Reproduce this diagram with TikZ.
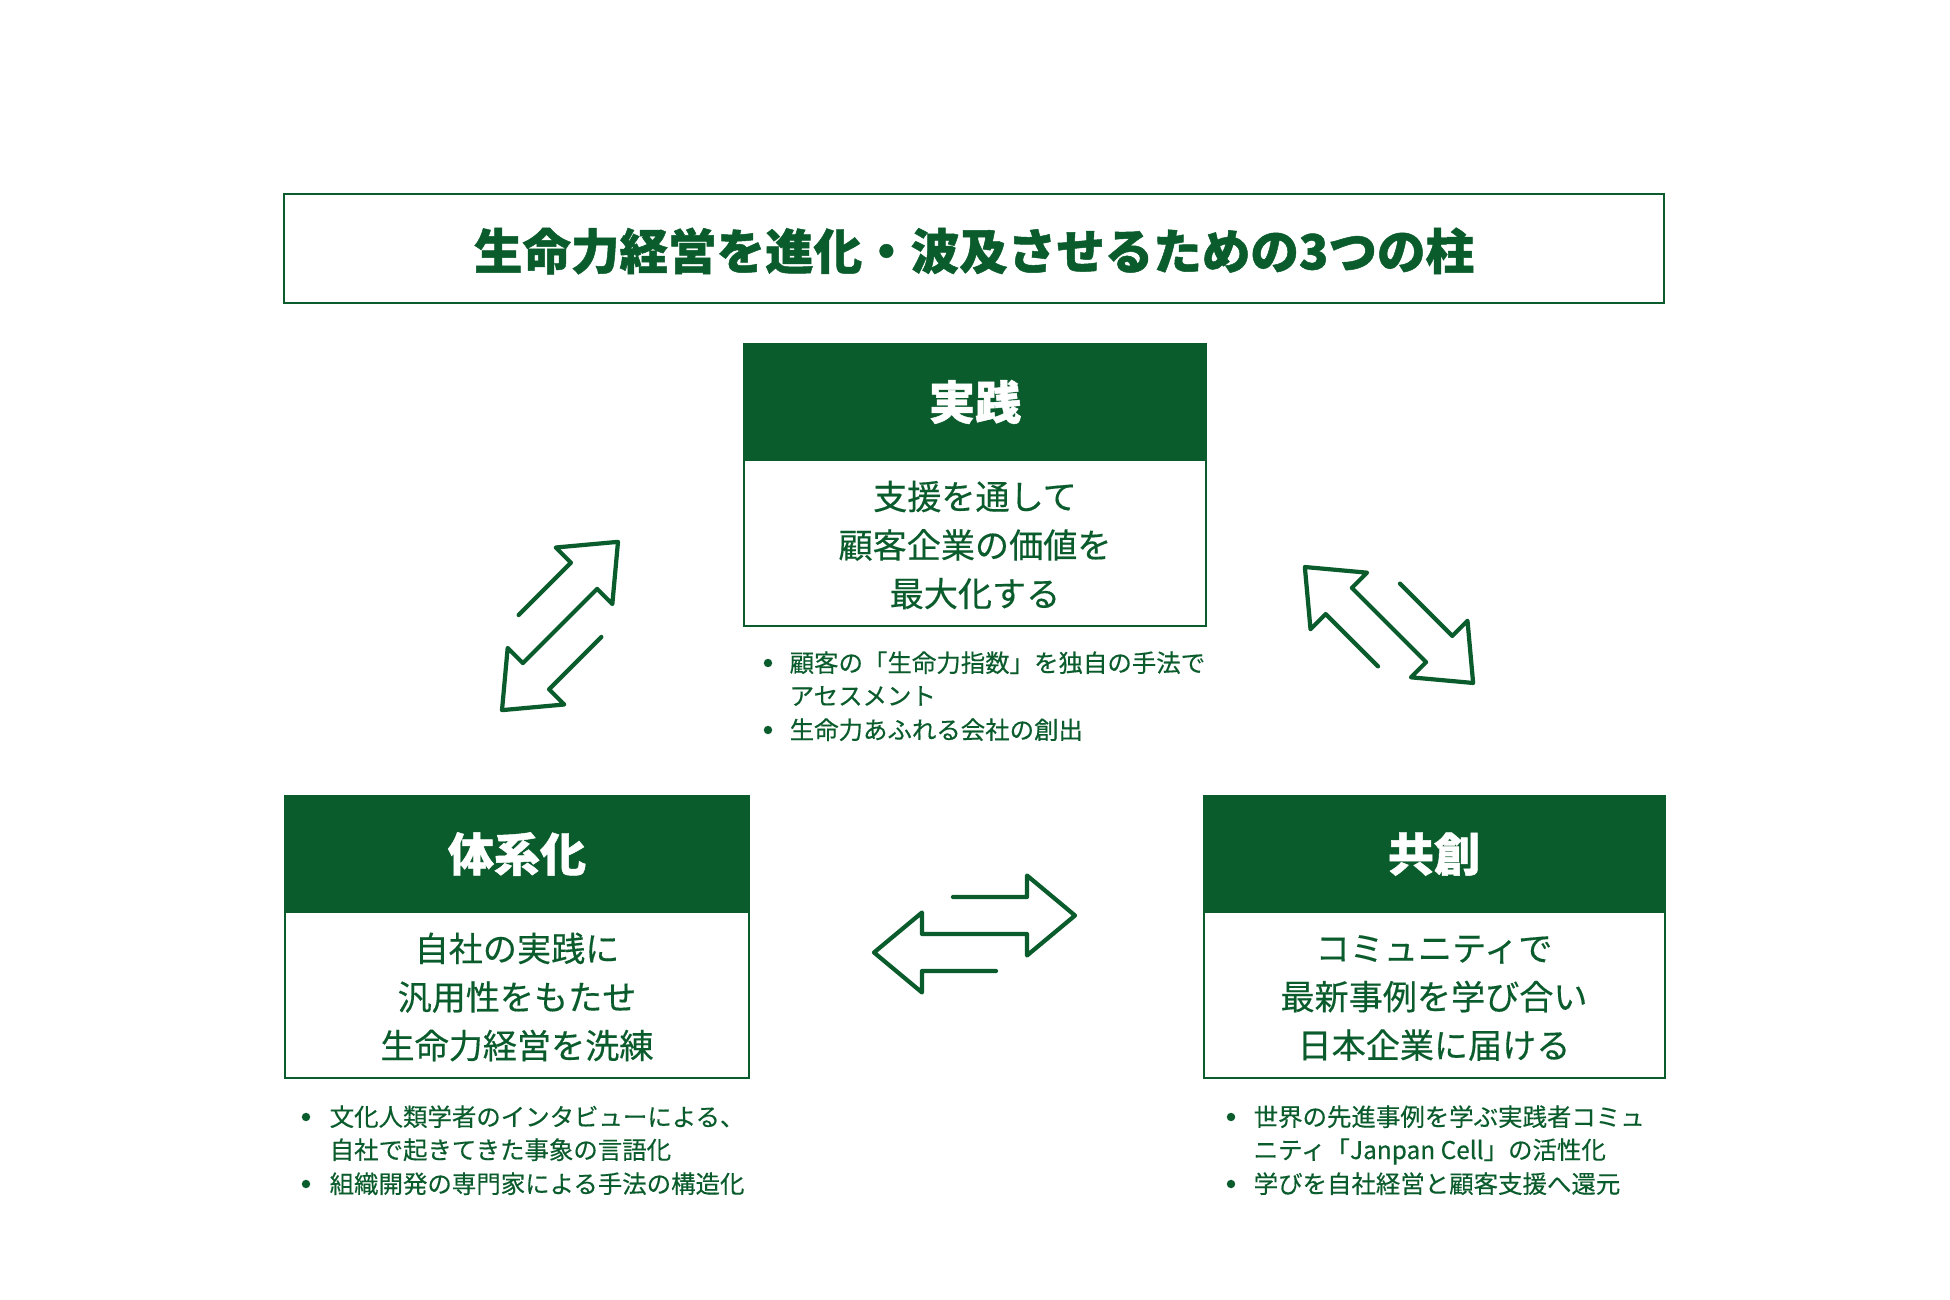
\documentclass[tikz,border=0pt]{standalone}
\usepackage{fontspec}
\setmainfont{Noto Sans CJK JP}

\begin{document}
\begin{tikzpicture}[x=0.01cm, y=-0.01cm,
    boxline/.style={draw=forest, line width=0.6pt},
    headfill/.style={fill=forest, draw=forest, line width=0.6pt},
    titletext/.style={text=forest, font=\fontsize{13.8}{16}\selectfont\bfseries\addfontfeature{FakeBold=1}},
    headtext/.style={text=white, font=\fontsize{13.1}{15}\selectfont\bfseries\addfontfeature{FakeBold=1}},
    bodytext/.style={text=forest, align=center, font=\fontsize{9.7}{13.8}\selectfont\addfontfeature{FakeBold=0.4}},
    notetext/.style={text=forest, anchor=base west, inner sep=0pt, font=\fontsize{6.95}{8}\selectfont\addfontfeature{FakeBold=0.3}},
    arrowline/.style={draw=forest, line width=1.2pt, line cap=round, line join=round},
    swaparrows/.pic={
      \draw[arrowline] (21.5,37) -- (-52.5,37) -- (-52.5,58.5) -- (-100.5,18.5)
        -- (-52.5,-21.5) -- (-52.5,0) -- (52.5,0) -- (52.5,21.5) -- (100.5,-18.5)
        -- (52.5,-58.5) -- (52.5,-37) -- (-21.5,-37);
    }]

  % Colors
  \definecolor{forest}{RGB}{10,92,44}

  % Canvas
  \fill[white] (0,0) rectangle (1950,1300);
  \useasboundingbox (0,0) rectangle (1950,1300);

  % Title frame
  \draw[boxline] (284,194) rectangle (1664,303);
  \node[titletext] (title) at (974,251) {生命力経営を進化・波及させるための3つの柱};

  % Pillar: practice (top)
  \filldraw[headfill] (744,344) rectangle (1206,460);
  \node[headtext] (jissen) at (975,402) {実践};
  \draw[boxline] (744,460) rectangle (1206,626);
  \node[bodytext] (jissenbody) at (975,545) {支援を通して\\顧客企業の価値を\\最大化する};

  \fill[forest] (768,663) circle (1.2pt);
  \node[notetext] (jissennote1) at (789,672) {顧客の「生命力指数」を独自の手法で};
  \node[notetext] (jissennote2) at (789,705) {アセスメント};
  \fill[forest] (768,730) circle (1.2pt);
  \node[notetext] (jissennote3) at (789,739) {生命力あふれる会社の創出};

  % Pillar: systematization (left)
  \filldraw[headfill] (285,796) rectangle (749,912);
  \node[headtext] (taikei) at (517,854) {体系化};
  \draw[boxline] (285,912) rectangle (749,1078);
  \node[bodytext] (taikeibody) at (517,997) {自社の実践に\\汎用性をもたせ\\生命力経営を洗練};

  \fill[forest] (306,1117) circle (1.2pt);
  \node[notetext] (taikeinote1) at (329,1126) {文化人類学者のインタビューによる、};
  \node[notetext] (taikeinote2) at (329,1159) {自社で起きてきた事象の言語化};
  \fill[forest] (306,1184) circle (1.2pt);
  \node[notetext] (taikeinote3) at (329,1193) {組織開発の専門家による手法の構造化};

  % Pillar: co-creation (right)
  \filldraw[headfill] (1204,796) rectangle (1665,912);
  \node[headtext] (kyoso) at (1434,854) {共創};
  \draw[boxline] (1204,912) rectangle (1665,1078);
  \node[bodytext] (kyosobody) at (1434,998) {コミュニティで\\最新事例を学び合い\\日本企業に届ける};

  \fill[forest] (1231,1117) circle (1.2pt);
  \node[notetext] (kyosonote1) at (1253,1126) {世界の先進事例を学ぶ実践者コミュ};
  \node[notetext] (kyosonote2) at (1253,1159) {ニティ「Janpan Cell」の活性化};
  \fill[forest] (1231,1184) circle (1.2pt);
  \node[notetext] (kyosonote3) at (1253,1193) {学びを自社経営と顧客支援へ還元};

  % Exchange arrows between the pillars
  \pic (swapleft) [rotate=45] at (560,626) {swaparrows};
  \pic (swapright) [rotate=135] at (1389,625) {swaparrows};
  \pic (swapbottom) at (974.5,934) {swaparrows};

\end{tikzpicture}
\end{document}
